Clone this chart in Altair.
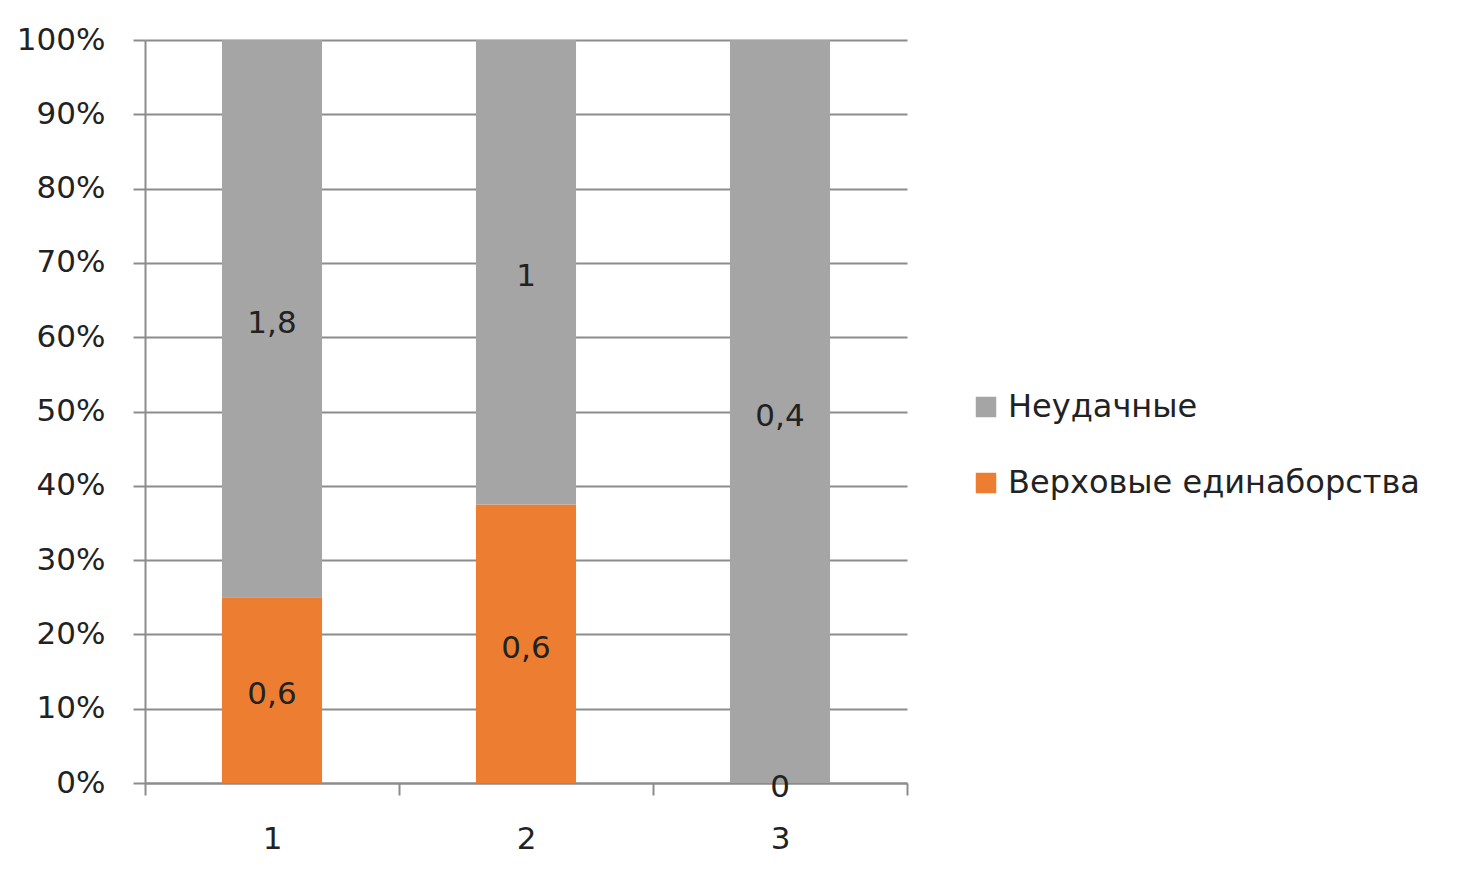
import altair as alt
import pandas as pd

categories = ["1", "2", "3"]
series_names = ["Верховые единаборства", "Неудачные"]
verkhovye = [0.6, 0.6, 0.0]
neudachnye = [1.8, 1.0, 0.4]
y_ticks = [0, 0.1, 0.2, 0.3, 0.4, 0.5, 0.6, 0.7, 0.8, 0.9, 1.0]

rows = []
for i, c in enumerate(categories):
    rows.append({"cat": c, "series": series_names[0], "order": 0, "value": verkhovye[i]})
    rows.append({"cat": c, "series": series_names[1], "order": 1, "value": neudachnye[i]})
df = pd.DataFrame(rows)

FONT = "DejaVu Sans"
FS = 31
LFS = 32
GRID = "#8c8c8c"
TXT = "#222222"

base = alt.Chart(df).transform_joinaggregate(
    total="sum(value)", groupby=["cat"]
).transform_calculate(
    pct="datum.value / datum.total"
).transform_window(
    y_end="sum(pct)", groupby=["cat"], sort=[alt.SortField("order")], frame=[None, 0]
).transform_calculate(
    y_start="datum.y_end - datum.pct",
    y_mid="datum.y_end - datum.pct / 2",
    label="replace(toString(datum.value), '.', ',')",
)

x_enc = alt.X(
    "cat:N",
    title=None,
    scale=alt.Scale(type="band", paddingInner=0, paddingOuter=0),
    axis=alt.Axis(
        labelAngle=0, tickBand="extent", tickSize=12, labelPadding=29,
        grid=False, domainColor=GRID, tickColor=GRID, domainWidth=2, tickWidth=2,
        labelFont=FONT, labelFontSize=FS, labelColor=TXT,
    ),
)

bars = base.mark_bar(width=alt.RelativeBandSize(0.394)).encode(
    x=x_enc,
    y=alt.Y(
        "y_start:Q",
        title=None,
        scale=alt.Scale(domain=[0, 1], nice=False),
        axis=alt.Axis(
            values=y_ticks, format=".0%", tickSize=12, labelPadding=28,
            gridColor=GRID, gridWidth=2, domainColor=GRID, tickColor=GRID,
            domainWidth=2, tickWidth=2,
            labelFont=FONT, labelFontSize=FS, labelColor=TXT,
        ),
    ),
    y2="y_end:Q",
    color=alt.Color(
        "series:N",
        scale=alt.Scale(domain=[series_names[1], series_names[0]], range=["#a5a5a5", "#ed7d31"]),
        legend=alt.Legend(
            title=None, orient="none", legendX=825, legendY=351,
            symbolType="square", symbolSize=420, symbolStrokeWidth=0,
            labelFont=FONT, labelFontSize=LFS, labelColor=TXT, labelLimit=0,
            rowPadding=44, labelOffset=6,
        ),
    ),
)

texts = base.mark_text(font=FONT, fontSize=FS, color=TXT, baseline="middle", dy=5).encode(
    x=alt.X("cat:N"),
    y=alt.Y("y_mid:Q"),
    text="label:N",
)

chart = alt.layer(bars, texts).properties(
    width=762, height=743,
    padding={"left": 137, "top": 32, "right": 540, "bottom": 80},
    autosize=alt.AutoSizeParams(type="none"),
    background="white",
).configure_view(stroke=None)

chart.save("out.html", embed_options={"renderer": "svg", "actions": False})
